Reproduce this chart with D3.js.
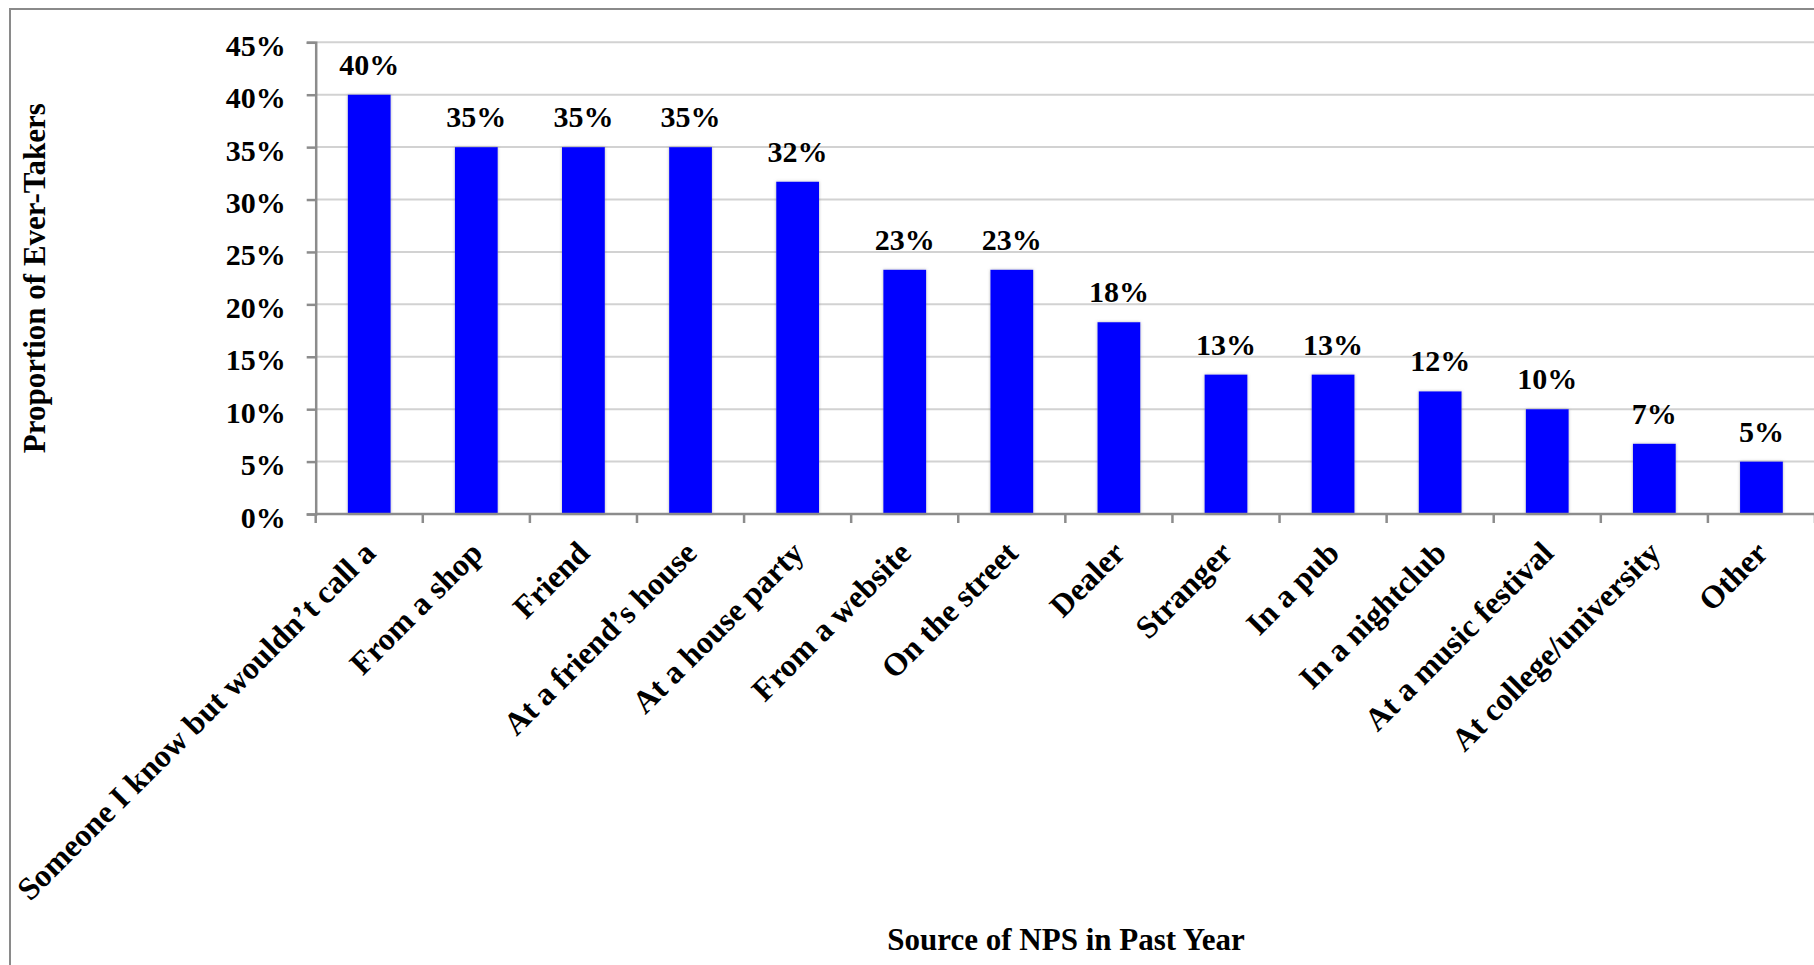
<!DOCTYPE html>
<html>
<head>
<meta charset="utf-8">
<script src="https://cdn.jsdelivr.net/npm/d3@7"></script>
<style>
  html, body { margin: 0; padding: 0; background: #fff; }
  svg { display: block; }
  text { font-family: "Liberation Serif", "Times New Roman", serif; font-weight: bold; fill: #000; }
</style>
</head>
<body>
<svg id="chart" width="1814" height="965"></svg>
<script>
// Where ever-takers obtained NPS in the past year (% of respondents)
const categories = [
  "Someone I know but wouldn\u2019t call a",
  "From a shop",
  "Friend",
  "At a friend\u2019s house",
  "At a house party",
  "From a website",
  "On the street",
  "Dealer",
  "Stranger",
  "In a pub",
  "In a nightclub",
  "At a music festival",
  "At college/university",
  "Other"
];
const values = [40, 35, 35, 35, 31.7, 23.3, 23.3, 18.3, 13.3, 13.3, 11.7, 10, 6.7, 5];
const yTicks = [0, 5, 10, 15, 20, 25, 30, 35, 40, 45];
const yTitle = "Proportion of Ever-Takers";
const xTitle = "Source of NPS in Past Year";

const svg = d3.select("#chart");
const W = 1814, H = 965;

const plot = { left: 315.7, right: 1815, top: 42.3, bottom: 514 };

const x = d3.scaleBand()
  .domain(categories)
  .range([plot.left, plot.right])
  .paddingInner(0.6)
  .paddingOuter(0.3);

const y = d3.scaleLinear()
  .domain([0, 45])
  .range([plot.bottom, plot.top]);

const pct = v => Math.round(v) + "%";

// soft shadow under bars
const defs = svg.append("defs");
const f = defs.append("filter").attr("id", "barShadow")
  .attr("x", "-20%").attr("y", "-20%").attr("width", "140%").attr("height", "140%");
f.append("feDropShadow").attr("dx", 0).attr("dy", 0)
  .attr("stdDeviation", 1.4).attr("flood-color", "#777").attr("flood-opacity", 0.55);

// outer frame
svg.append("rect")
  .attr("x", 10).attr("y", 9)
  .attr("width", W + 20).attr("height", H + 20)
  .attr("fill", "none").attr("stroke", "#8a8a8a").attr("stroke-width", 2);

// horizontal gridlines
svg.append("g")
  .selectAll("line")
  .data(yTicks.filter(t => t > 0))
  .join("line")
  .attr("x1", plot.left).attr("x2", W)
  .attr("y1", d => y(d)).attr("y2", d => y(d))
  .attr("stroke", "#d2d2d2").attr("stroke-width", 2);

// y axis
const yAxis = svg.append("g")
  .attr("transform", `translate(${plot.left},0)`)
  .call(d3.axisLeft(y).tickValues(yTicks).tickSize(9).tickFormat(pct));
yAxis.select(".domain").attr("stroke", "#8c8c8c").attr("stroke-width", 2.5);
yAxis.selectAll(".tick line").attr("stroke", "#8c8c8c").attr("stroke-width", 2.5);
yAxis.selectAll(".tick text")
  .attr("x", -30).attr("dy", null).attr("y", 13)
  .attr("font-size", 30)
  .attr("font-family", "Liberation Serif, Times New Roman, serif")
  .attr("font-weight", "bold")
  .attr("fill", "#000");

// bars
svg.append("g")
  .selectAll("rect")
  .data(values)
  .join("rect")
  .attr("x", (d, i) => x(categories[i]))
  .attr("y", d => y(d))
  .attr("width", x.bandwidth())
  .attr("height", d => y(0) - y(d))
  .attr("fill", "#0000ff")
  .attr("filter", "url(#barShadow)");

// value labels
svg.append("g")
  .selectAll("text")
  .data(values)
  .join("text")
  .attr("x", (d, i) => x(categories[i]) + x.bandwidth() / 2)
  .attr("y", d => y(d) - 20)
  .attr("text-anchor", "middle")
  .attr("font-size", 30)
  .text(pct);

// x axis line and boundary ticks
const gap = (x.step() - x.bandwidth()) / 2;
const bounds = categories.map(c => x(c) - gap).concat([x(categories[categories.length - 1]) + x.bandwidth() + gap]);
svg.append("line")
  .attr("x1", plot.left).attr("x2", W)
  .attr("y1", y(0)).attr("y2", y(0))
  .attr("stroke", "#8c8c8c").attr("stroke-width", 2.5);
svg.append("g")
  .selectAll("line")
  .data(bounds)
  .join("line")
  .attr("x1", d => d).attr("x2", d => d)
  .attr("y1", y(0)).attr("y2", y(0) + 9)
  .attr("stroke", "#8c8c8c").attr("stroke-width", 2.5);

// rotated category labels
svg.append("g")
  .selectAll("text")
  .data(categories)
  .join("text")
  .attr("transform", d => `translate(${x(d) + x.bandwidth() / 2 + 8},${y(0) + 41}) rotate(-45)`)
  .attr("text-anchor", "end")
  .attr("font-size", 32)
  .text(d => d);

// axis titles
svg.append("text")
  .attr("transform", `translate(45,${(plot.top + plot.bottom) / 2}) rotate(-90)`)
  .attr("text-anchor", "middle")
  .attr("font-size", 31)
  .text(yTitle);

svg.append("text")
  .attr("x", 1066).attr("y", 950)
  .attr("text-anchor", "middle")
  .attr("font-size", 31)
  .text(xTitle);
</script>
</body>
</html>
